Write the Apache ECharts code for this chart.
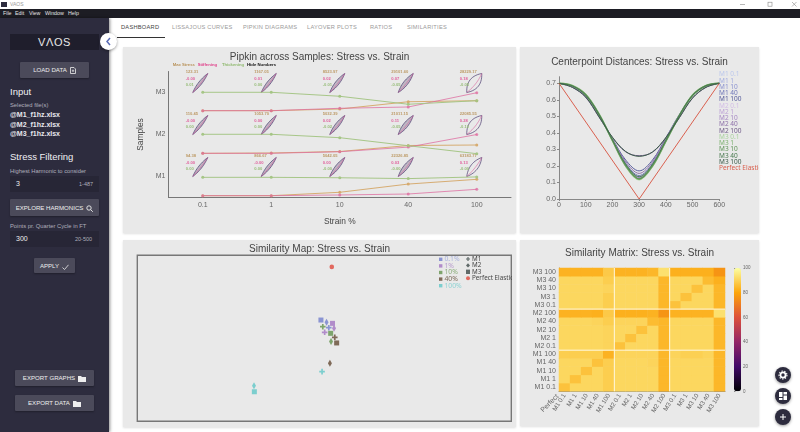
<!DOCTYPE html>
<html>
<head>
<meta charset="utf-8">
<title>VAOS</title>
<script src="https://cdn.jsdelivr.net/npm/echarts@6/dist/echarts.min.js"></script>
<style>
  html, body { margin: 0; padding: 0; width: 800px; height: 432px; overflow: hidden; background: #fff; font-family: "Liberation Sans", Arial, sans-serif; }
  .abs { position: absolute; white-space: nowrap; }
  #titlebar { left: 0; top: 0; width: 800px; height: 9px; background: #fff; color: #999; font-size: 5px; line-height: 9px; }
  #menubar { left: 0; top: 9px; width: 800px; height: 9px; background: #1d1d24; color: #e4e4e4; font-size: 5.3px; line-height: 9px; }
  #menubar span { position: absolute; top: 0; }
  #sidebar { left: 0; top: 18px; width: 109px; height: 414px; background: #2d2c3e; box-shadow: 1px 0 3px rgba(0,0,0,.45); }
  .side { color: #eee; }
  .hint { color: #b0afbc; font-size: 5.8px; }
  .file { color: #e8e8ee; font-size: 7px; font-weight: bold; left: 10px; }
  .head { color: #f0f0f4; font-size: 9.5px; left: 10px; }
  .btn { background: #4b4a5a; color: #eee; font-size: 6.1px; text-align: center; border-radius: 1px; box-shadow: 0 1px 2px rgba(0,0,0,.3); }
  .btn svg { vertical-align: -1.5px; margin-left: 3px; }
  .box { background: #272636; }
  .tab { top: 24px; font-size: 5.7px; letter-spacing: .25px; color: #9a9a9a; }
  .panel { background: #e9e9e9; box-shadow: 0 1px 2px rgba(0,0,0,.12); }
  .chart { position: absolute; }
  .fab { width: 16px; height: 16px; left: 775px; border-radius: 8px; background: #2d2c3e; box-shadow: 0 1px 3px rgba(0,0,0,.4); }
  .fab svg { position: absolute; left: 3px; top: 3px; }
</style>
</head>
<body>

<!-- window chrome -->
<div class="abs" id="titlebar">
  <svg class="abs" style="left:1px;top:2px" width="6" height="5"><rect width="6" height="5" fill="#2d2c3e"/></svg>
  <span class="abs" style="left:10px">VAOS</span>
  <svg class="abs" style="left:740px;top:1px" width="58" height="7" stroke="#888" stroke-width=".6" fill="none">
    <path d="M0 3.5h5"/><rect x="28" y="1.2" width="4" height="4"/><path d="M52 1l4.5 4.5M56.5 1L52 5.5"/>
  </svg>
</div>
<div class="abs" id="menubar">
  <span style="left:3px">File</span><span style="left:15px">Edit</span><span style="left:29px">View</span><span style="left:45px">Window</span><span style="left:68px">Help</span>
</div>

<!-- tabs -->
<span class="abs tab" style="left:121px;color:#444">DASHBOARD</span>
<span class="abs tab" style="left:172px">LISSAJOUS CURVES</span>
<span class="abs tab" style="left:243px">PIPKIN DIAGRAMS</span>
<span class="abs tab" style="left:307px">LAYOVER PLOTS</span>
<span class="abs tab" style="left:370px">RATIOS</span>
<span class="abs tab" style="left:407px">SIMILARITIES</span>
<div class="abs" style="left:117px;top:37px;width:48px;height:1px;background:#333"></div>

<!-- panels -->
<div class="abs panel" style="left:123px;top:47px;width:393px;height:186px"></div>
<div class="abs panel" style="left:520px;top:47px;width:239px;height:186px"></div>
<div class="abs panel" style="left:123px;top:240px;width:393px;height:187px"></div>
<div class="abs panel" style="left:520px;top:240px;width:239px;height:186px"></div>
<div class="chart" id="pipkin" style="left:123px;top:47px;width:393px;height:186px"></div>
<div class="chart" id="center" style="left:520px;top:47px;width:239px;height:186px"></div>
<div class="chart" id="simmap" style="left:123px;top:240px;width:389px;height:187px"></div>
<div class="chart" id="matrix" style="left:520px;top:240px;width:239px;height:186px"></div>

<!-- sidebar -->
<div class="abs" id="sidebar"></div>
<div class="abs box" style="left:10px;top:34px;width:89px;height:16px;background:#1f1e2c;color:#e8e8e8;font-size:11px;line-height:16px;text-align:center;letter-spacing:.6px">V&Lambda;OS</div>
<div class="abs" style="left:100px;top:33px;width:17px;height:17px;border-radius:9px;background:#fff;box-shadow:0 1px 3px rgba(0,0,0,.4)">
  <svg width="17" height="17"><path d="M10 5l-3 3.5 3 3.5" fill="none" stroke="#5a6bb5" stroke-width="1.5"/></svg>
</div>
<div class="abs btn" style="left:20px;top:62px;width:69px;height:16px;line-height:16px">LOAD DATA<svg width="6" height="7"><path d="M.5.5h3.5l1.5 1.5v4.5h-5z" fill="none" stroke="#eee" stroke-width=".8"/><path d="M3 2.5v2.5M1.8 3.8h2.4" stroke="#eee" stroke-width=".7"/></svg></div>
<span class="abs head" style="top:86px">Input</span>
<span class="abs hint" style="left:10px;top:102px">Selected file(s)</span>
<span class="abs file" style="top:111px">@M1_f1hz.xlsx</span>
<span class="abs file" style="top:121px">@M2_f1hz.xlsx</span>
<span class="abs file" style="top:130px">@M3_f1hz.xlsx</span>
<span class="abs head" style="top:151px">Stress Filtering</span>
<span class="abs hint" style="left:10px;top:168px">Highest Harmonic to consider</span>
<div class="abs box" style="left:10px;top:176px;width:89px;height:16px"></div>
<span class="abs side" style="left:16px;top:180px;font-size:7px">3</span>
<span class="abs hint" style="left:79px;top:181px;font-size:5.5px">1-487</span>
<div class="abs btn" style="left:10px;top:199px;width:89px;height:17px;line-height:17px">EXPLORE HARMONICS<svg width="7" height="7"><circle cx="3" cy="3" r="2.2" fill="none" stroke="#eee" stroke-width=".9"/><path d="M4.6 4.6L6.8 6.8" stroke="#eee" stroke-width=".9"/></svg></div>
<span class="abs hint" style="left:10px;top:223px">Points pr. Quarter Cycle in FT</span>
<div class="abs box" style="left:10px;top:231px;width:89px;height:16px"></div>
<span class="abs side" style="left:16px;top:235px;font-size:7px">300</span>
<span class="abs hint" style="left:75px;top:236px;font-size:5.5px">20-500</span>
<div class="abs btn" style="left:34px;top:258px;width:41px;height:15px;line-height:15px">APPLY<svg width="7" height="6"><path d="M.5 3.5l2 2L6.5.8" fill="none" stroke="#eee" stroke-width=".8"/></svg></div>
<div class="abs btn" style="left:15px;top:370px;width:79px;height:16px;line-height:16px">EXPORT GRAPHS<svg width="8" height="6"><path d="M0 0h3l1 1h4v5H0z" fill="#eee"/></svg></div>
<div class="abs btn" style="left:15px;top:395px;width:79px;height:16px;line-height:16px">EXPORT DATA<svg width="8" height="6"><path d="M0 0h3l1 1h4v5H0z" fill="#eee"/></svg></div>

<!-- floating buttons -->
<div class="abs fab" style="top:367px"><svg width="10" height="10"><circle cx="5" cy="5" r="2.6" fill="none" stroke="#fff" stroke-width="1.8"/><circle cx="5" cy="5" r="4" fill="none" stroke="#fff" stroke-width="1.1" stroke-dasharray="1.4 1.4"/></svg></div>
<div class="abs fab" style="top:388px"><svg width="10" height="10"><path d="M1 1h3.5v5H1zM5.5 1H9v2.5H5.5zM5.5 4.5H9V9H5.5zM1 7h3.5v2H1z" fill="#fff"/></svg></div>
<div class="abs fab" style="top:409px"><svg width="10" height="10"><path d="M5 2v6M2 5h6" stroke="#fff" stroke-width="1"/></svg></div>

<script>
var FONT = '"Liberation Sans", Arial, sans-serif';

/* ---- Pipkin data, one list per sample, rows run over the strains ---- */
var strains = ['0.1', '1', '10', '40', '100'];
var samples = ['M1', 'M2', 'M3'];

// height of each marker inside the band of its sample (0 bottom, 1 top)
var maxStressM1 = [0.043, 0.043, 0.124, 0.32, 0.433];
var maxStressM2 = [0.052, 0.06, 0.095, 0.238, 0.25];
var maxStressM3 = [0.067, 0.067, 0.107, 0.28, 0.305];
var stiffeningM1 = [0.043, 0.043, 0.06, 0.083, 0.195];
var stiffeningM2 = [0.052, 0.052, 0.09, 0.2, 0.5];
var stiffeningM3 = [0.067, 0.067, 0.124, 0.155, 0.495];
var thickeningM1 = [0.48, 0.48, 0.47, 0.45, 0.49];
var thickeningM2 = [0.505, 0.505, 0.424, 0.233, 0.043];
var thickeningM3 = [0.505, 0.505, 0.41, 0.22, 0.305];

// printed numbers next to the loops
var stressTextM1 = ['94.38', '866.67', '5042.05', '22326.85', '63183.77'];
var stressTextM2 = ['110.45', '1053.70', '5032.39', '21011.15', '22085.55'];
var stressTextM3 = ['123.31', '1167.05', '8523.97', '29101.60', '28229.17'];
var stiffTextM1 = ['-0.00', '-0.00', '0.00', '0.03', '0.13'];
var stiffTextM2 = ['-0.00', '0.00', '0.02', '0.11', '0.28'];
var stiffTextM3 = ['-0.00', '0.01', '0.02', '0.07', '0.18'];
var thickTextM1 = ['0.00', '0.00', '-0.00', '-0.00', '-0.00'];
var thickTextM2 = ['0.00', '0.00', '-0.02', '-0.05', '-0.12'];
var thickTextM3 = ['0.01', '0.00', '-0.01', '-0.05', '-0.05'];

// how open each Lissajous loop is
var loopOpenM1 = [1.6, 1.7, 1.9, 2.2, 3.6];
var loopOpenM2 = [1.6, 1.7, 1.9, 2.3, 5];
var loopOpenM3 = [1.6, 1.7, 1.9, 2.2, 5.2];

var TAN = '#d5a96c', PINK = '#dd6a9e', GREEN = '#a3c483';

/* ---- Centerpoint distances ---- */
var centerX = [0, 50, 100, 150, 200, 250, 300, 350, 400, 450, 500, 550, 600];
var cdM1_01 = [0.70, 0.686, 0.632, 0.512, 0.356, 0.205, 0.128, 0.205, 0.352, 0.502, 0.627, 0.686, 0.70];
var cdM1_1 = [0.70, 0.685, 0.63, 0.51, 0.355, 0.204, 0.127, 0.204, 0.351, 0.50, 0.626, 0.685, 0.70];
var cdM1_10 = [0.70, 0.685, 0.63, 0.51, 0.357, 0.208, 0.132, 0.208, 0.354, 0.503, 0.627, 0.685, 0.70];
var cdM1_40 = [0.70, 0.684, 0.628, 0.51, 0.36, 0.215, 0.142, 0.216, 0.36, 0.506, 0.627, 0.684, 0.70];
var cdM1_100 = [0.70, 0.682, 0.622, 0.505, 0.365, 0.235, 0.17, 0.236, 0.37, 0.51, 0.626, 0.683, 0.70];
var cdM2_01 = [0.70, 0.686, 0.631, 0.511, 0.356, 0.205, 0.127, 0.206, 0.352, 0.502, 0.627, 0.686, 0.70];
var cdM2_1 = [0.70, 0.685, 0.63, 0.51, 0.355, 0.204, 0.126, 0.205, 0.351, 0.501, 0.626, 0.685, 0.70];
var cdM2_10 = [0.70, 0.685, 0.629, 0.51, 0.356, 0.207, 0.13, 0.207, 0.353, 0.503, 0.627, 0.685, 0.70];
var cdM2_40 = [0.70, 0.683, 0.625, 0.508, 0.362, 0.225, 0.155, 0.226, 0.365, 0.508, 0.627, 0.684, 0.70];
var cdM2_100 = [0.70, 0.675, 0.615, 0.495, 0.372, 0.285, 0.262, 0.283, 0.37, 0.49, 0.61, 0.675, 0.70];
var cdM3_01 = [0.70, 0.686, 0.632, 0.513, 0.354, 0.2, 0.118, 0.2, 0.35, 0.503, 0.628, 0.686, 0.70];
var cdM3_1 = [0.70, 0.686, 0.632, 0.512, 0.354, 0.2, 0.12, 0.2, 0.35, 0.502, 0.628, 0.686, 0.70];
var cdM3_10 = [0.70, 0.685, 0.631, 0.512, 0.355, 0.202, 0.122, 0.202, 0.351, 0.503, 0.628, 0.686, 0.70];
var cdM3_40 = [0.70, 0.684, 0.628, 0.51, 0.358, 0.21, 0.135, 0.21, 0.356, 0.505, 0.627, 0.685, 0.70];
var cdM3_100 = [0.70, 0.676, 0.617, 0.497, 0.374, 0.287, 0.258, 0.285, 0.372, 0.492, 0.612, 0.676, 0.70];
var perfectX = [0, 300, 600];
var perfectY = [0.7, 0, 0.7];

var centerNames = ['M1 0.1', 'M1 1', 'M1 10', 'M1 40', 'M1 100', 'M2 0.1', 'M2 1', 'M2 10', 'M2 40', 'M2 100', 'M3 0.1', 'M3 1', 'M3 10', 'M3 40', 'M3 100'];
var centerValues = [cdM1_01, cdM1_1, cdM1_10, cdM1_40, cdM1_100, cdM2_01, cdM2_1, cdM2_10, cdM2_40, cdM2_100, cdM3_01, cdM3_1, cdM3_10, cdM3_40, cdM3_100];
var centerColors = ['#bcc8ec', '#a3aee0', '#8b93d0', '#6f77b8', '#555b9a', '#d3bde6', '#bda2d6', '#a688c4', '#8d70a8', '#6f5a88', '#a9d29e', '#7fb272', '#5f9458', '#4a7a50', '#3c5c4a'];
var centerWidths = [1, 1, 1, 1, 1, 1, 1, 1, 1, 1, 1.8, 1.6, 1.2, 1, 1];

/* ---- Similarity map, points listed M1, M2, M3 for each strain ---- */
var simStrain01 = [[51.2, 56.4], [50.6, 59.6], [49.1, 61.0]];
var simStrain1 = [[50.1, 53.6], [52.6, 56.0], [52.2, 59.0]];
var simStrain10 = [[49.6, 57.0], [51.8, 48.0], [51.7, 53.0]];
var simStrain40 = [[52.8, 50.6], [51.5, 34.9], [53.3, 47.2]];
var simStrain100 = [[49.4, 29.9], [31.2, 21.4], [31.3, 17.8]];
var simPerfect = [[52.0, 93.0]];

/* ---- Similarity matrix, first row is M1 0.1, last row M3 100 ---- */
var matrixLabels = centerNames;
var matrixRow0 = [86.5, 91, 91, 91, 89, 91, 91, 91, 91, 84, 91, 91, 91, 91, 84];
var matrixRow1 = [91, 86.5, 91, 91, 89, 91, 91, 91, 91, 84, 91, 91, 91, 91, 84];
var matrixRow2 = [91, 91, 86.5, 91, 89, 91, 91, 91, 91, 84, 91, 91, 91, 91, 84];
var matrixRow3 = [91, 91, 91, 86.5, 89, 91, 91, 91, 90.5, 84, 91, 91, 91, 91, 84];
var matrixRow4 = [89, 89, 89, 89, 83, 90.5, 90.5, 90.5, 90.5, 84, 90.5, 89.5, 89.5, 90.5, 84];
var matrixRow5 = [91, 91, 91, 91, 90.5, 86.5, 91, 91, 91, 84, 91, 91, 91, 91, 84];
var matrixRow6 = [91, 91, 91, 91, 90.5, 91, 86.5, 91, 91, 84, 91, 91, 91, 91, 84];
var matrixRow7 = [91, 91, 91, 91, 90.5, 91, 91, 86.5, 91, 84, 91, 91, 91, 91, 84];
var matrixRow8 = [91, 91, 91, 90.5, 89, 90.5, 90.5, 90.5, 85, 84, 91, 91, 91, 91, 84];
var matrixRow9 = [83, 83, 83, 82.5, 88, 82.5, 82.5, 82.5, 83, 76, 83, 83, 83, 83, 93];
var matrixRow10 = [91, 91, 91, 91, 89, 91, 91, 91, 91, 84, 86.5, 91, 91, 91, 84];
var matrixRow11 = [91, 91, 91, 91, 89, 91, 91, 91, 91, 84, 91, 86.5, 91, 91, 84];
var matrixRow12 = [91, 91, 91, 91, 90.5, 91, 91, 91, 91, 84, 91, 91, 86.5, 91, 84];
var matrixRow13 = [91, 91, 91, 91, 89, 91, 91, 91, 91, 84, 91, 91, 91, 85, 82.5];
var matrixRow14 = [83, 83, 83, 83, 88, 83, 83, 83, 84, 93, 82.5, 82.5, 82.5, 82.5, 76];
var matrixRows = [matrixRow0, matrixRow1, matrixRow2, matrixRow3, matrixRow4, matrixRow5, matrixRow6, matrixRow7,
                  matrixRow8, matrixRow9, matrixRow10, matrixRow11, matrixRow12, matrixRow13, matrixRow14];
var groupBreaks = [5, 10];

/* inferno, like the colorbar */
var inferno = ['#000004', '#420a68', '#932667', '#dd513a', '#fca50a', '#fcffa4'];

function titleOf(text, top) {
  return { text: text, left: 'center', top: top, padding: 0,
           textStyle: { fontFamily: FONT, fontSize: 10, fontWeight: 'normal', color: '#444' } };
}

function bandSeries(name, color, opacity, lists) {
  // the three sample bands each get their own line
  return lists.map(function (list, s) {
    return {
      name: name, type: 'line', xAxisIndex: 0, yAxisIndex: 1,
      symbol: 'circle', symbolSize: 3,
      lineStyle: { color: color, width: 1, opacity: opacity },
      itemStyle: { color: color, opacity: opacity },
      data: list.map(function (v) { return s + v; }),
      silent: true, animation: false
    };
  });
}

function lens(cx, cy, open) {
  // pointed loop from lower left to upper right of the little inset
  var ux = 7.5, uy = -9.5, len = Math.sqrt(ux * ux + uy * uy);
  var nx = -uy / len, ny = ux / len;
  var pts = [];
  var n = 14, i, s;
  for (i = 0; i <= n; i++) {
    s = -1 + 2 * i / n;
    pts.push([cx + s * ux + nx * open * (1 - s * s), cy + s * uy + ny * open * (1 - s * s)]);
  }
  for (i = n; i >= 0; i--) {
    s = -1 + 2 * i / n;
    pts.push([cx + s * ux - nx * open * (1 - s * s), cy + s * uy - ny * open * (1 - s * s)]);
  }
  return pts;
}

function drawPipkin() {
  var chart = echarts.init(document.getElementById('pipkin'));

  var stressText = [stressTextM1, stressTextM2, stressTextM3];
  var stiffText = [stiffTextM1, stiffTextM2, stiffTextM3];
  var thickText = [thickTextM1, thickTextM2, thickTextM3];
  var loopOpen = [loopOpenM1, loopOpenM2, loopOpenM3];

  var loopData = [];
  samples.forEach(function (m, s) {
    strains.forEach(function (st, c) {
      loopData.push([c, s + 0.5, loopOpen[s][c], s]);
    });
  });

  var series = []
    .concat(bandSeries('Max Stress', TAN, 0.95, [maxStressM1, maxStressM2, maxStressM3]))
    .concat(bandSeries('Stiffening', PINK, 0.75, [stiffeningM1, stiffeningM2, stiffeningM3]))
    .concat(bandSeries('Thickening', GREEN, 0.95, [thickeningM1, thickeningM2, thickeningM3]));

  series.push({
    type: 'custom', xAxisIndex: 0, yAxisIndex: 1, silent: true, animation: false, clip: false,
    data: loopData,
    renderItem: function (params, api) {
      var c = api.value(0), s = api.value(3);
      var p = api.coord([c, api.value(1)]);
      var cx = p[0] - 2.5, cy = p[1] - 9.5;
      var font = 'bold 4.1px ' + FONT;
      var left = p[0] - 17;
      var open = api.value(2);
      return {
        type: 'group',
        children: [
          { type: 'polyline', shape: { points: lens(cx, cy, open) },
            style: { stroke: '#4a3a6e', lineWidth: 0.7, fill: open < 3 ? 'rgba(90,70,110,.3)' : 'none' } },
          { type: 'polyline', shape: { points: lens(cx, cy, open * 0.3).slice(0, 15) },
            style: { stroke: '#d8609c', lineWidth: 0.6, fill: 'none' } },
          { type: 'text', style: { x: left, y: p[1] - 21, text: stressText[s][c], fill: '#bd9a66', font: font, textVerticalAlign: 'middle' } },
          { type: 'text', style: { x: left, y: p[1] - 14, text: stiffText[s][c], fill: '#e0609c', font: font, textVerticalAlign: 'middle' } },
          { type: 'text', style: { x: left, y: p[1] - 7.5, text: thickText[s][c], fill: '#96bc78', font: font, textVerticalAlign: 'middle' } }
        ]
      };
    }
  });

  chart.setOption({
    animation: false,
    title: titleOf('Pipkin across Samples: Stress vs. Strain', 5),
    grid: { left: 45.5, right: 5, top: 24.5, height: 126 },
    xAxis: {
      type: 'category', data: strains,
      name: 'Strain %', nameLocation: 'middle', nameGap: 20,
      nameTextStyle: { fontFamily: FONT, fontSize: 8.4, color: '#444' },
      axisLine: { lineStyle: { color: '#777', width: 1 } },
      axisTick: { alignWithLabel: true, length: 2, lineStyle: { color: '#777' } },
      axisLabel: { fontFamily: FONT, fontSize: 7, color: '#666', margin: 4 }
    },
    yAxis: [{
      type: 'category', data: samples,
      name: 'Samples', nameLocation: 'middle', nameGap: 21,
      nameTextStyle: { fontFamily: FONT, fontSize: 8.4, color: '#444' },
      axisLine: { lineStyle: { color: '#777', width: 1 } },
      axisTick: { alignWithLabel: true, length: 2, lineStyle: { color: '#777' } },
      axisLabel: { fontFamily: FONT, fontSize: 7, color: '#666', margin: 3 }
    }, {
      type: 'value', min: 0, max: 3, show: false
    }],
    graphic: [
      { type: 'text', left: 49.7, top: 16, style: { text: 'Max Stress', fill: '#b8925a', font: 'bold 4.2px ' + FONT } },
      { type: 'text', left: 74.7, top: 16, style: { text: 'Stiffening', fill: '#e0408a', font: 'bold 4.2px ' + FONT } },
      { type: 'text', left: 99, top: 16, style: { text: 'Thickening', fill: '#8fb96e', font: 'bold 4.2px ' + FONT } },
      { type: 'text', left: 124, top: 16, style: { text: 'Hide Numbers', fill: '#111', font: 'bold 4.3px ' + FONT } }
    ],
    series: series
  });
}

function drawCenter() {
  var chart = echarts.init(document.getElementById('center'));

  var series = centerNames.map(function (name, i) {
    return {
      name: name, type: 'line', showSymbol: false, smooth: 0.35,
      lineStyle: { color: centerColors[i], width: centerWidths[i] },
      itemStyle: { color: centerColors[i] },
      data: centerX.map(function (x, j) { return [x, centerValues[i][j]]; })
    };
  });
  series.push({
    name: 'Perfect Elastic', type: 'line', showSymbol: false,
    lineStyle: { color: '#d9604f', width: 1 }, itemStyle: { color: '#d9604f' },
    data: perfectX.map(function (x, j) { return [x, perfectY[j]]; })
  });

  var legendData = centerNames.map(function (name, i) {
    return { name: name, icon: 'none', textStyle: { color: centerColors[i] } };
  });
  legendData.push({ name: 'Perfect Elastic', icon: 'none', textStyle: { color: '#d9604f' } });

  chart.setOption({
    animation: false,
    title: titleOf('Centerpoint Distances: Stress vs. Strain', 10),
    grid: { left: 39, width: 160.3, top: 29.7, height: 122.3 },
    legend: {
      orient: 'vertical', left: 194, top: 24, padding: 0, itemGap: -0.75,
      itemWidth: 0, itemHeight: 6, selectedMode: false,
      textStyle: { fontFamily: '"Noto Sans", sans-serif', fontSize: 6.5, padding: 0, lineHeight: 6.24, height: 6.24 },
      data: legendData
    },
    xAxis: {
      type: 'value', min: 0, max: 600, interval: 100, splitLine: { show: false },
      axisLine: { onZero: false, lineStyle: { color: '#888' } },
      axisTick: { show: true, length: 2, lineStyle: { color: '#888' } },
      axisLabel: { fontFamily: FONT, fontSize: 7, color: '#666', margin: 3 }
    },
    yAxis: {
      type: 'value', min: 0, max: 0.74, interval: 0.1, splitLine: { show: false },
      axisLine: { show: true, onZero: false, lineStyle: { color: '#888' } },
      axisTick: { show: true, length: 2, lineStyle: { color: '#888' } },
      axisLabel: { fontFamily: FONT, fontSize: 7, color: '#666', margin: 3, showMaxLabel: false,
                   formatter: function (v) { return v.toFixed(1); } }
    },
    series: series
  });
}

function drawSimMap() {
  var chart = echarts.init(document.getElementById('simmap'));

  var CROSS = 'path://M35 0H65V35H100V65H65V100H35V65H0V35H35Z';
  var THIN = 'diamond';
  var sampleSymbols = [CROSS, THIN, 'rect'];
  var sampleSizes = [5.6, [4, 7], 5];

  function strainSeries(name, list, color) {
    return {
      name: name, type: 'scatter', itemStyle: { color: color, opacity: 0.9 }, silent: true,
      data: list.map(function (p, i) {
        return { value: p, symbol: sampleSymbols[i], symbolSize: sampleSizes[i] };
      })
    };
  }

  var BLUE = '#7f8bcf', PURPLE = '#ab82c6', GREENISH = '#729c5f', BROWN = '#735c48', CYAN = '#70cbcb';

  chart.setOption({
    animation: false,
    title: { text: 'Similarity Map: Stress vs. Strain', left: 126, top: 4, padding: 0,
             textStyle: { fontFamily: FONT, fontSize: 10, fontWeight: 'normal', color: '#444' } },
    grid: { left: 14.3, width: 374, top: 15.3, height: 166, show: true, borderColor: '#777', borderWidth: 1.4 },
    xAxis: { type: 'value', min: 0, max: 100, show: false },
    yAxis: { type: 'value', min: 0, max: 100, show: false },
    legend: [{
      orient: 'vertical', left: 316, top: 15.8, padding: 0, itemGap: -0.4,
      itemWidth: 3.4, itemHeight: 3.4, selectedMode: false,
      textStyle: { fontFamily: '"Noto Sans", sans-serif', fontSize: 6.8, padding: [0, 0, 0, -3], lineHeight: 6.7, height: 6.7 },
      data: [
        { name: '0.1%', icon: 'rect', textStyle: { color: '#a9b2dd' } },
        { name: '1%', icon: 'rect', textStyle: { color: '#b79ccc' } },
        { name: '10%', icon: 'rect', textStyle: { color: '#8cae7c' } },
        { name: '40%', icon: 'rect', textStyle: { color: '#7b6a5a' } },
        { name: '100%', icon: 'rect', textStyle: { color: '#8fd3d3' } }
      ]
    }, {
      orient: 'vertical', left: 343, top: 15.8, padding: 0, itemGap: 0,
      itemWidth: 4, itemHeight: 4.4, selectedMode: false,
      textStyle: { fontFamily: '"Noto Sans", sans-serif', fontSize: 6.3, color: '#444', padding: [0, 0, 0, -3], lineHeight: 6.4, height: 6.4 },
      data: [
        { name: 'M1', icon: CROSS },
        { name: 'M2', icon: THIN },
        { name: 'M3', icon: 'rect' },
        { name: 'Perfect Elastic', icon: 'circle' }
      ]
    }],
    series: [
      strainSeries('0.1%', simStrain01, BLUE),
      strainSeries('1%', simStrain1, PURPLE),
      strainSeries('10%', simStrain10, GREENISH),
      strainSeries('40%', simStrain40, BROWN),
      strainSeries('100%', simStrain100, CYAN),
      { name: 'M1', type: 'scatter', itemStyle: { color: '#3d4a48' }, data: [] },
      { name: 'M2', type: 'scatter', itemStyle: { color: '#3d4a48' }, data: [] },
      { name: 'M3', type: 'scatter', itemStyle: { color: '#3d4a48' }, data: [] },
      { name: 'Perfect Elastic', type: 'scatter', symbol: 'circle', symbolSize: 4.6,
        itemStyle: { color: '#e0483c' }, data: simPerfect, silent: true }
    ]
  });
}

function drawMatrix() {
  var chart = echarts.init(document.getElementById('matrix'));

  var cells = [];
  matrixRows.forEach(function (row, r) {
    row.forEach(function (v, c) { cells.push([c, r, v]); });
  });

  // white seams between the sample groups
  var seams = [];
  groupBreaks.forEach(function (b) {
    seams.push({ type: 'line', xAxisIndex: 1, yAxisIndex: 1, showSymbol: false, silent: true,
                 lineStyle: { color: '#fff8e0', width: 1 }, data: [[b, 0], [b, 15]] });
    seams.push({ type: 'line', xAxisIndex: 1, yAxisIndex: 1, showSymbol: false, silent: true,
                 lineStyle: { color: '#fff8e0', width: 1 }, data: [[0, b], [15, b]] });
  });

  chart.setOption({
    animation: false,
    title: titleOf('Similarity Matrix: Stress vs. Strain', 8),
    grid: [
      { left: 39, width: 166, top: 28, height: 123.3 },
      { left: 214, width: 7, top: 28, height: 123.3 }
    ],
    xAxis: [
      { type: 'category', data: matrixLabels, gridIndex: 0,
        axisLine: { lineStyle: { color: '#888' } },
        axisTick: { alignWithLabel: true, length: 2, lineStyle: { color: '#888' } },
        axisLabel: { fontFamily: FONT, fontSize: 6.3, color: '#666', margin: 3, rotate: 58, interval: 0 } },
      { type: 'value', gridIndex: 0, min: 0, max: 15, show: false },
      { type: 'value', gridIndex: 1, min: 0, max: 1, show: false }
    ],
    yAxis: [
      { type: 'category', data: matrixLabels, gridIndex: 0,
        axisLine: { lineStyle: { color: '#888' } },
        axisTick: { alignWithLabel: true, length: 2, lineStyle: { color: '#888' } },
        axisLabel: { fontFamily: FONT, fontSize: 7, color: '#666', margin: 3, interval: 0 } },
      { type: 'value', gridIndex: 0, min: 0, max: 15, show: false },
      { type: 'value', gridIndex: 1, min: 0, max: 100, interval: 20, position: 'right',
        splitLine: { show: false }, axisLine: { show: false },
        axisTick: { show: true, length: 1.5, lineStyle: { color: '#888' } },
        axisLabel: { fontFamily: FONT, fontSize: 4.5, color: '#666', margin: 2 } }
    ],
    visualMap: {
      type: 'continuous', min: 0, max: 100, seriesIndex: 0, dimension: 2,
      left: 214, top: 28, padding: 0, itemWidth: 7, itemHeight: 123.3,
      text: ['', ''], showLabel: false, calculable: false, realtime: false,
      inRange: { color: inferno }
    },
    graphic: [{
      type: 'text', x: 35, y: 153, rotation: 45 * Math.PI / 180,
      style: { text: 'Perfect', fill: '#666', font: '7px ' + FONT, textAlign: 'right', textVerticalAlign: 'top' }
    }],
    series: [{ type: 'heatmap', xAxisIndex: 0, yAxisIndex: 0, data: cells, silent: true, progressive: 0 }].concat(seams)
  });
}

drawPipkin();
drawCenter();
drawSimMap();
drawMatrix();
</script>
</body>
</html>
